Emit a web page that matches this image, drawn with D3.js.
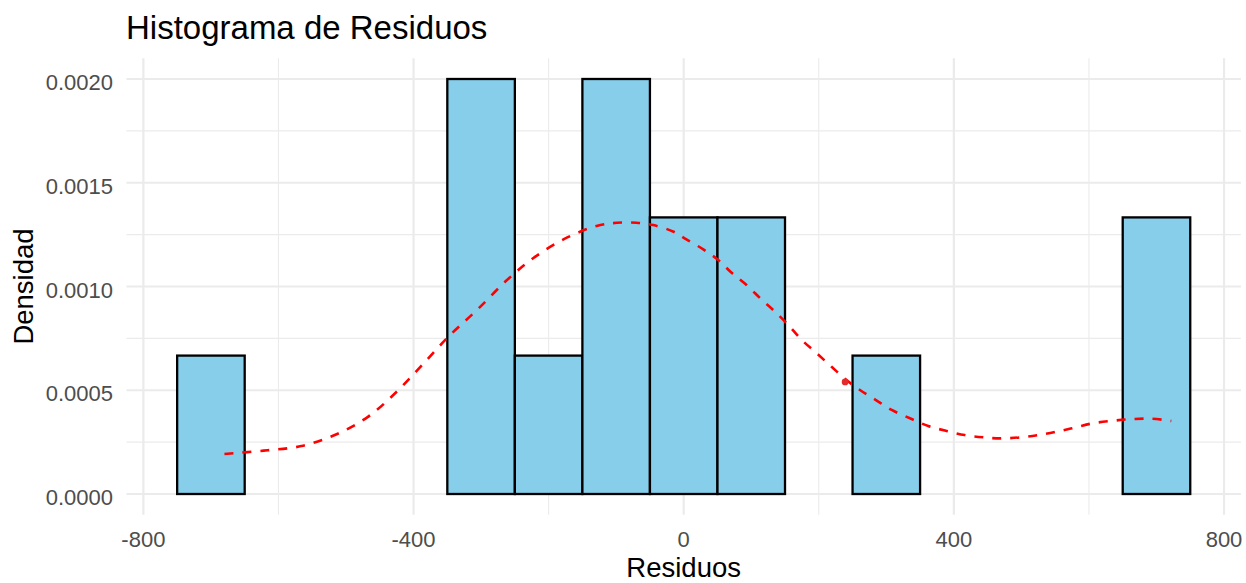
<!DOCTYPE html>
<html>
<head>
<meta charset="utf-8">
<script src="https://cdn.jsdelivr.net/npm/d3@7"></script>
<style>
  html, body { margin: 0; padding: 0; background: #fff; }
  svg { display: block; font-family: "Liberation Sans", Arial, sans-serif; }
</style>
</head>
<body>
<svg id="chart" width="1246" height="583"></svg>
<script>
// histogram bins (left edge, density), binwidth 100
const binStart = [-750, -350, -250, -150, -50, 50, 250, 650];
const binDensity = [0.000667, 0.002, 0.000667, 0.002, 0.001333, 0.001333, 0.000667, 0.001333];
const binWidth = 100;

// kernel density curve
const densX = [-680, -622, -566, -514, -467, -425, -386, -346, -306, -262, -223, -178, -129, -99, -70, -45, -15, 4, 29, 51, 71, 93, 115, 135, 155, 174, 197, 219, 241, 261, 283, 308, 335, 362, 389, 416, 444, 468, 498, 525, 552, 579, 606, 636, 663, 693, 722];
const densY = [0.000193, 0.000209, 0.000231, 0.000288, 0.000373, 0.000493, 0.000626, 0.000766, 0.000887, 0.00103, 0.001136, 0.001227, 0.001292, 0.001307, 0.001307, 0.001296, 0.001264, 0.001227, 0.001179, 0.001128, 0.001066, 0.001007, 0.000938, 0.000879, 0.000814, 0.000745, 0.000678, 0.000613, 0.000549, 0.000501, 0.000456, 0.000405, 0.000365, 0.000328, 0.000304, 0.000284, 0.000273, 0.000268, 0.000273, 0.000284, 0.0003, 0.00032, 0.000341, 0.000353, 0.000361, 0.000363, 0.000352];

// stray red blob on the curve
const blobX = [239];
const blobY = [0.00054];

const xTicks = [-800, -400, 0, 400, 800];
const xMinor = [-600, -200, 200, 600];
const yTicks = [0, 0.0005, 0.001, 0.0015, 0.002];
const yTickLabels = ["0.0000", "0.0005", "0.0010", "0.0015", "0.0020"];
const yMinor = [0.00025, 0.00075, 0.00125, 0.00175];

const svg = d3.select("#chart");
const x = d3.scaleLinear().domain([-825, 825]).range([126.5, 1240.9]);
const y = d3.scaleLinear().domain([-0.0001, 0.0021]).range([514.75, 58.25]);
const [x0, x1] = x.range();
const [y0, y1] = y.range();

// grid
const grid = svg.append("g");
grid.selectAll(".xmin").data(xMinor).enter().append("line")
  .attr("x1", d => x(d)).attr("x2", d => x(d)).attr("y1", y0).attr("y2", y1)
  .attr("stroke", "#ebebeb").attr("stroke-width", 1.1);
grid.selectAll(".ymin").data(yMinor).enter().append("line")
  .attr("x1", x0).attr("x2", x1).attr("y1", d => y(d)).attr("y2", d => y(d))
  .attr("stroke", "#ebebeb").attr("stroke-width", 1.1);
grid.selectAll(".xmaj").data(xTicks).enter().append("line")
  .attr("x1", d => x(d)).attr("x2", d => x(d)).attr("y1", y0).attr("y2", y1)
  .attr("stroke", "#ebebeb").attr("stroke-width", 2.2);
grid.selectAll(".ymaj").data(yTicks).enter().append("line")
  .attr("x1", x0).attr("x2", x1).attr("y1", d => y(d)).attr("y2", d => y(d))
  .attr("stroke", "#ebebeb").attr("stroke-width", 2.2);

// bars
svg.append("g").selectAll("rect").data(binStart).enter().append("rect")
  .attr("x", d => x(d))
  .attr("width", d => x(d + binWidth) - x(d))
  .attr("y", (d, i) => y(binDensity[i]))
  .attr("height", (d, i) => y(0) - y(binDensity[i]))
  .attr("fill", "#87ceeb")
  .attr("stroke", "#000")
  .attr("stroke-width", 2.3);

// density curve
const line = d3.line()
  .x((d, i) => x(densX[i]))
  .y((d, i) => y(d))
  .curve(d3.curveCatmullRom);
svg.append("path")
  .datum(densY)
  .attr("d", line)
  .attr("fill", "none")
  .attr("stroke", "#ff0000")
  .attr("stroke-width", 2.6)
  .attr("stroke-dasharray", "9,9");

svg.selectAll(".blob").data(blobX).enter().append("circle")
  .attr("cx", d => x(d)).attr("cy", (d, i) => y(blobY[i])).attr("r", 3.4)
  .attr("fill", "#e32b2b");

// axis labels
svg.append("g").selectAll("text").data(xTicks).enter().append("text")
  .attr("x", d => x(d)).attr("y", 547)
  .attr("text-anchor", "middle")
  .attr("font-size", 22).attr("fill", "#4d4d4d")
  .text(d => d);

svg.append("g").selectAll("text").data(yTicks).enter().append("text")
  .attr("x", 113).attr("y", d => y(d) + 11)
  .attr("text-anchor", "end")
  .attr("font-size", 22).attr("fill", "#4d4d4d")
  .text((d, i) => yTickLabels[i]);

svg.append("text")
  .attr("x", (x0 + x1) / 2).attr("y", 577)
  .attr("text-anchor", "middle").attr("font-size", 27.5).attr("fill", "#000")
  .text("Residuos");

svg.append("text")
  .attr("transform", `translate(33,${(y0 + y1) / 2}) rotate(-90)`)
  .attr("text-anchor", "middle").attr("font-size", 27.5).attr("fill", "#000")
  .text("Densidad");

svg.append("text")
  .attr("x", 126).attr("y", 39)
  .attr("font-size", 33).attr("fill", "#000")
  .text("Histograma de Residuos");
</script>
</body>
</html>
